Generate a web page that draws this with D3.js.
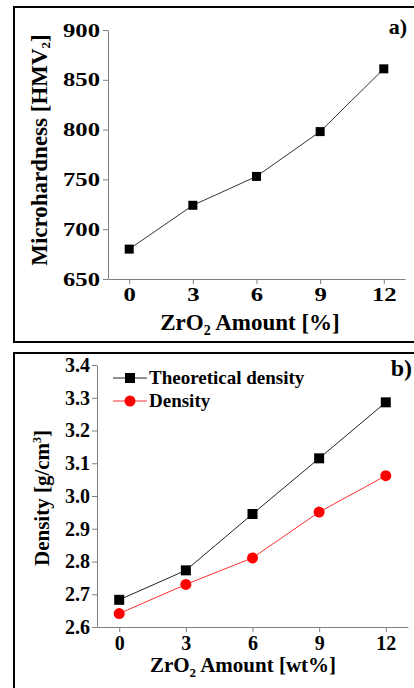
<!DOCTYPE html>
<html>
<head>
<meta charset="utf-8">
<script src="https://cdn.jsdelivr.net/npm/d3@7"></script>
<style>
  html, body { margin: 0; padding: 0; background: #fff; }
  svg { display: block; }
  text { font-family: "Liberation Serif", "DejaVu Serif", serif; font-weight: bold; }
</style>
</head>
<body>
<svg id="chart" width="414" height="688"></svg>
<script>
  // ---- data ----
  const zro2Amounts = [0, 3, 6, 9, 12];
  const microhardness = [680, 724, 753, 798, 861];
  const theoreticalDensity = [2.683, 2.773, 2.945, 3.115, 3.286];
  const measuredDensity = [2.641, 2.730, 2.811, 2.951, 3.062];
  const hardnessTicks = [650, 700, 750, 800, 850, 900];
  const densityTicks = [2.6, 2.7, 2.8, 2.9, 3.0, 3.1, 3.2, 3.3, 3.4];

  const svg = d3.select("#chart");
  const axisGray = "#808080";

  // panel frames
  svg.append("rect").attr("x", 14).attr("y", 7).attr("width", 410).attr("height", 335)
    .attr("fill", "none").attr("stroke", "#000").attr("stroke-width", 2);
  svg.append("rect").attr("x", 14).attr("y", 353).attr("width", 410).attr("height", 345)
    .attr("fill", "none").attr("stroke", "#000").attr("stroke-width", 2);

  function styleAxis(g, fontSize, stretch) {
    g.attr("color", axisGray);
    g.selectAll(".domain").attr("stroke", axisGray).attr("stroke-width", 1);
    g.selectAll(".tick line").attr("stroke", axisGray);
    g.selectAll("text").attr("fill", "#000").attr("font-size", fontSize)
      .attr("font-family", "Liberation Serif").attr("font-weight", "bold");
  }

  // ============================================================
  // Panel a: microhardness
  // ============================================================
  {
    const x = d3.scaleLinear().domain([-1, 13]).range([108, 405]);
    const y = d3.scaleLinear().domain([650, 900]).range([279, 30]);
    const stretch = 1.3;

    const gx = svg.append("g").attr("transform", `translate(0,${y(650)})`)
      .call(d3.axisBottom(x).tickValues(zro2Amounts).tickSize(5).tickPadding(4).tickSizeOuter(0));
    styleAxis(gx, 19);
    gx.selectAll("text").attr("transform", `scale(${stretch},1)`);

    const gy = svg.append("g").attr("transform", `translate(${x(-1)},0)`)
      .call(d3.axisLeft(y).tickValues(hardnessTicks).tickSize(5).tickPadding(3).tickSizeOuter(0));
    styleAxis(gy, 19);
    gy.selectAll("text").attr("x", -8 / stretch).attr("transform", `scale(${stretch},1)`);

    const line = d3.line().x((d, i) => x(zro2Amounts[i])).y(d => y(d));
    svg.append("path").datum(microhardness).attr("d", line)
      .attr("fill", "none").attr("stroke", "#333").attr("stroke-width", 1);
    svg.selectAll(".sq-a").data(microhardness).enter().append("rect")
      .attr("x", (d, i) => x(zro2Amounts[i]) - 4.5).attr("y", d => y(d) - 4.5)
      .attr("width", 9).attr("height", 9).attr("fill", "#000");

    svg.append("text").attr("transform", "translate(47,150) rotate(-90)")
      .attr("text-anchor", "middle").attr("font-size", 23)
      .text("Microhardness [HMV").append("tspan").attr("font-size", 13).attr("dy", 3).text("2")
      .select(function () { return this.parentNode; })
      .append("tspan").attr("dy", -3).text("]");

    const xt = svg.append("text").attr("x", 250).attr("y", 330)
      .attr("text-anchor", "middle").attr("font-size", 23);
    xt.append("tspan").text("ZrO");
    xt.append("tspan").attr("font-size", 14).attr("dy", 5).text("2");
    xt.append("tspan").attr("dy", -5).text(" Amount [%]");

    svg.append("text").attr("x", 407).attr("y", 34).attr("text-anchor", "end")
      .attr("font-size", 22).text("a)");
  }

  // ============================================================
  // Panel b: density
  // ============================================================
  {
    const x = d3.scaleLinear().domain([-1, 13]).range([97, 408]);
    const y = d3.scaleLinear().domain([2.6, 3.4]).range([627, 365]);

    const gx = svg.append("g").attr("transform", `translate(0,${y(2.6)})`)
      .call(d3.axisBottom(x).tickValues(zro2Amounts).tickSize(5).tickPadding(4).tickSizeOuter(0));
    styleAxis(gx, 20);

    const gy = svg.append("g").attr("transform", `translate(${x(-1)},0)`)
      .call(d3.axisLeft(y).tickValues(densityTicks).tickFormat(d3.format(".1f"))
        .tickSize(5).tickPadding(2).tickSizeOuter(0));
    styleAxis(gy, 20);

    const series = [
      { name: "Theoretical density", values: theoreticalDensity, color: "#000", lineColor: "#222", shape: "square" },
      { name: "Density", values: measuredDensity, color: "#ff0000", lineColor: "#ff3030", shape: "circle" }
    ];

    const line = d3.line().x((d, i) => x(zro2Amounts[i])).y(d => y(d));
    series.forEach((s, k) => {
      svg.append("path").datum(s.values).attr("d", line)
        .attr("fill", "none").attr("stroke", s.lineColor).attr("stroke-width", 1);
      if (s.shape === "square") {
        svg.selectAll(".sq-b").data(s.values).enter().append("rect")
          .attr("x", (d, i) => x(zro2Amounts[i]) - 5).attr("y", d => y(d) - 5)
          .attr("width", 10).attr("height", 10).attr("fill", s.color);
      } else {
        svg.selectAll(".ci-b").data(s.values).enter().append("circle")
          .attr("cx", (d, i) => x(zro2Amounts[i])).attr("cy", d => y(d))
          .attr("r", 5.5).attr("fill", s.color);
      }

      // legend
      const ly = 378 + k * 23;
      svg.append("line").attr("x1", 113).attr("x2", 147).attr("y1", ly).attr("y2", ly)
        .attr("stroke", s.lineColor).attr("stroke-width", 1);
      if (s.shape === "square") {
        svg.append("rect").attr("x", 125).attr("y", ly - 5).attr("width", 10).attr("height", 10).attr("fill", s.color);
      } else {
        svg.append("circle").attr("cx", 130).attr("cy", ly).attr("r", 5.5).attr("fill", s.color);
      }
      svg.append("text").attr("x", 149).attr("y", ly + 6).attr("font-size", 19).text(s.name);
    });

    const yl = svg.append("text").attr("transform", "translate(49,498) rotate(-90)")
      .attr("text-anchor", "middle").attr("font-size", 21);
    yl.append("tspan").text("Density [g/cm");
    yl.append("tspan").attr("font-size", 12).attr("dy", -8).text("3");
    yl.append("tspan").attr("dy", 8).text("]");

    const xt = svg.append("text").attr("x", 243).attr("y", 672)
      .attr("text-anchor", "middle").attr("font-size", 21);
    xt.append("tspan").text("ZrO");
    xt.append("tspan").attr("font-size", 13).attr("dy", 5).text("2");
    xt.append("tspan").attr("dy", -5).text(" Amount [wt%]");

    svg.append("text").attr("x", 412).attr("y", 376).attr("text-anchor", "end")
      .attr("font-size", 24).text("b)");
  }
</script>
</body>
</html>
